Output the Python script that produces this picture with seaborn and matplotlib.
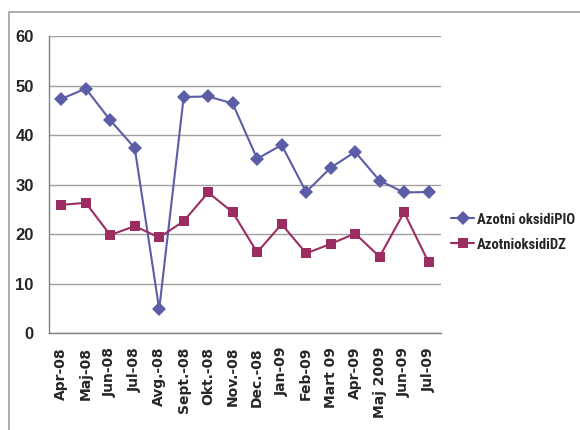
import matplotlib
matplotlib.use("Agg")
import matplotlib.pyplot as plt
import seaborn as sns
import pandas as pd
import numpy as np
from matplotlib.patches import Rectangle

months = ["Apr-08", "Maj-08", "Jun-08", "Jul-08", "Avg.-08", "Sept.-08", "Okt.-08",
          "Nov.-08", "Dec.-08", "Jan-09", "Feb-09", "Mart 09", "Apr-09", "Maj 2009",
          "Jun-09", "Jul-09"]
pio = [47.3, 49.4, 43.0, 37.4, 4.8, 47.7, 47.8, 46.4, 35.2, 38.0, 28.5, 33.4, 36.6,
       30.8, 28.4, 28.5]
dz = [25.9, 26.3, 19.8, 21.6, 19.3, 22.6, 28.4, 24.4, 16.3, 22.0, 16.1, 18.0, 20.1,
      15.4, 24.4, 14.3]
series_names = ["Azotni oksidiPIO", "AzotnioksidiDZ"]
colors = ["#5B5EA6", "#9B2D62"]
markers = ["D", "s"]

sns.set_style("white")
plt.rcParams["font.family"] = ["Liberation Sans", "DejaVu Sans"]

df = pd.DataFrame({
    "x": list(range(len(months))) * 2,
    "value": pio + dz,
    "series": [series_names[0]] * len(months) + [series_names[1]] * len(months),
})

fig = plt.figure(figsize=(5.8, 4.3), dpi=100)
ax = fig.add_axes([0.0845, 0.2256, 0.6755, 0.6904])

sns.lineplot(data=df, x="x", y="value", hue="series", style="series",
             palette=colors, markers=markers, dashes=False, ax=ax,
             linewidth=1.5, markersize=7, markeredgewidth=0)

ax.set_xlim(-0.5, len(months) - 0.5)
ax.set_ylim(0, 60)
ax.set_yticks(range(0, 61, 10))
ax.set_xticks(range(len(months)))
ax.set_xticklabels(months, rotation=90, fontsize=10, fontweight="bold",
                   family=["DejaVu Sans"])
ax.set_xticks(np.arange(-0.5, len(months), 1), minor=True)
ax.tick_params(axis="x", which="major", length=0, pad=10)
ax.tick_params(axis="x", which="minor", length=5, color="#808080", width=1)
ax.tick_params(axis="y", length=4, color="#808080", width=1, labelsize=12, pad=7)
for lab in ax.get_yticklabels():
    lab.set_fontweight("bold")
ax.set_xlabel("")
ax.set_ylabel("")
ax.grid(axis="y", color="#A0A0A0", linewidth=1)
ax.set_axisbelow(True)
for side in ["top", "right"]:
    ax.spines[side].set_visible(False)
for side in ["left", "bottom"]:
    ax.spines[side].set_color("#808080")
    ax.spines[side].set_linewidth(1)

leg = ax.legend(loc="center left", bbox_to_anchor=(1.0, 0.34), frameon=False,
                prop={"family": ["Roboto Condensed", "Liberation Sans"],
                      "weight": "bold", "size": 10.5},
                handlelength=1.6, handletextpad=0.2, labelspacing=0.75,
                borderaxespad=0.3)

# chart area border
fig.add_artist(Rectangle((9 / 580, -0.01), 1.0, 1 - 12 / 430 + 0.01,
                         transform=fig.transFigure, fill=False,
                         edgecolor="#A0A0A0", linewidth=1.2))

fig.savefig("out.png", dpi=100)
